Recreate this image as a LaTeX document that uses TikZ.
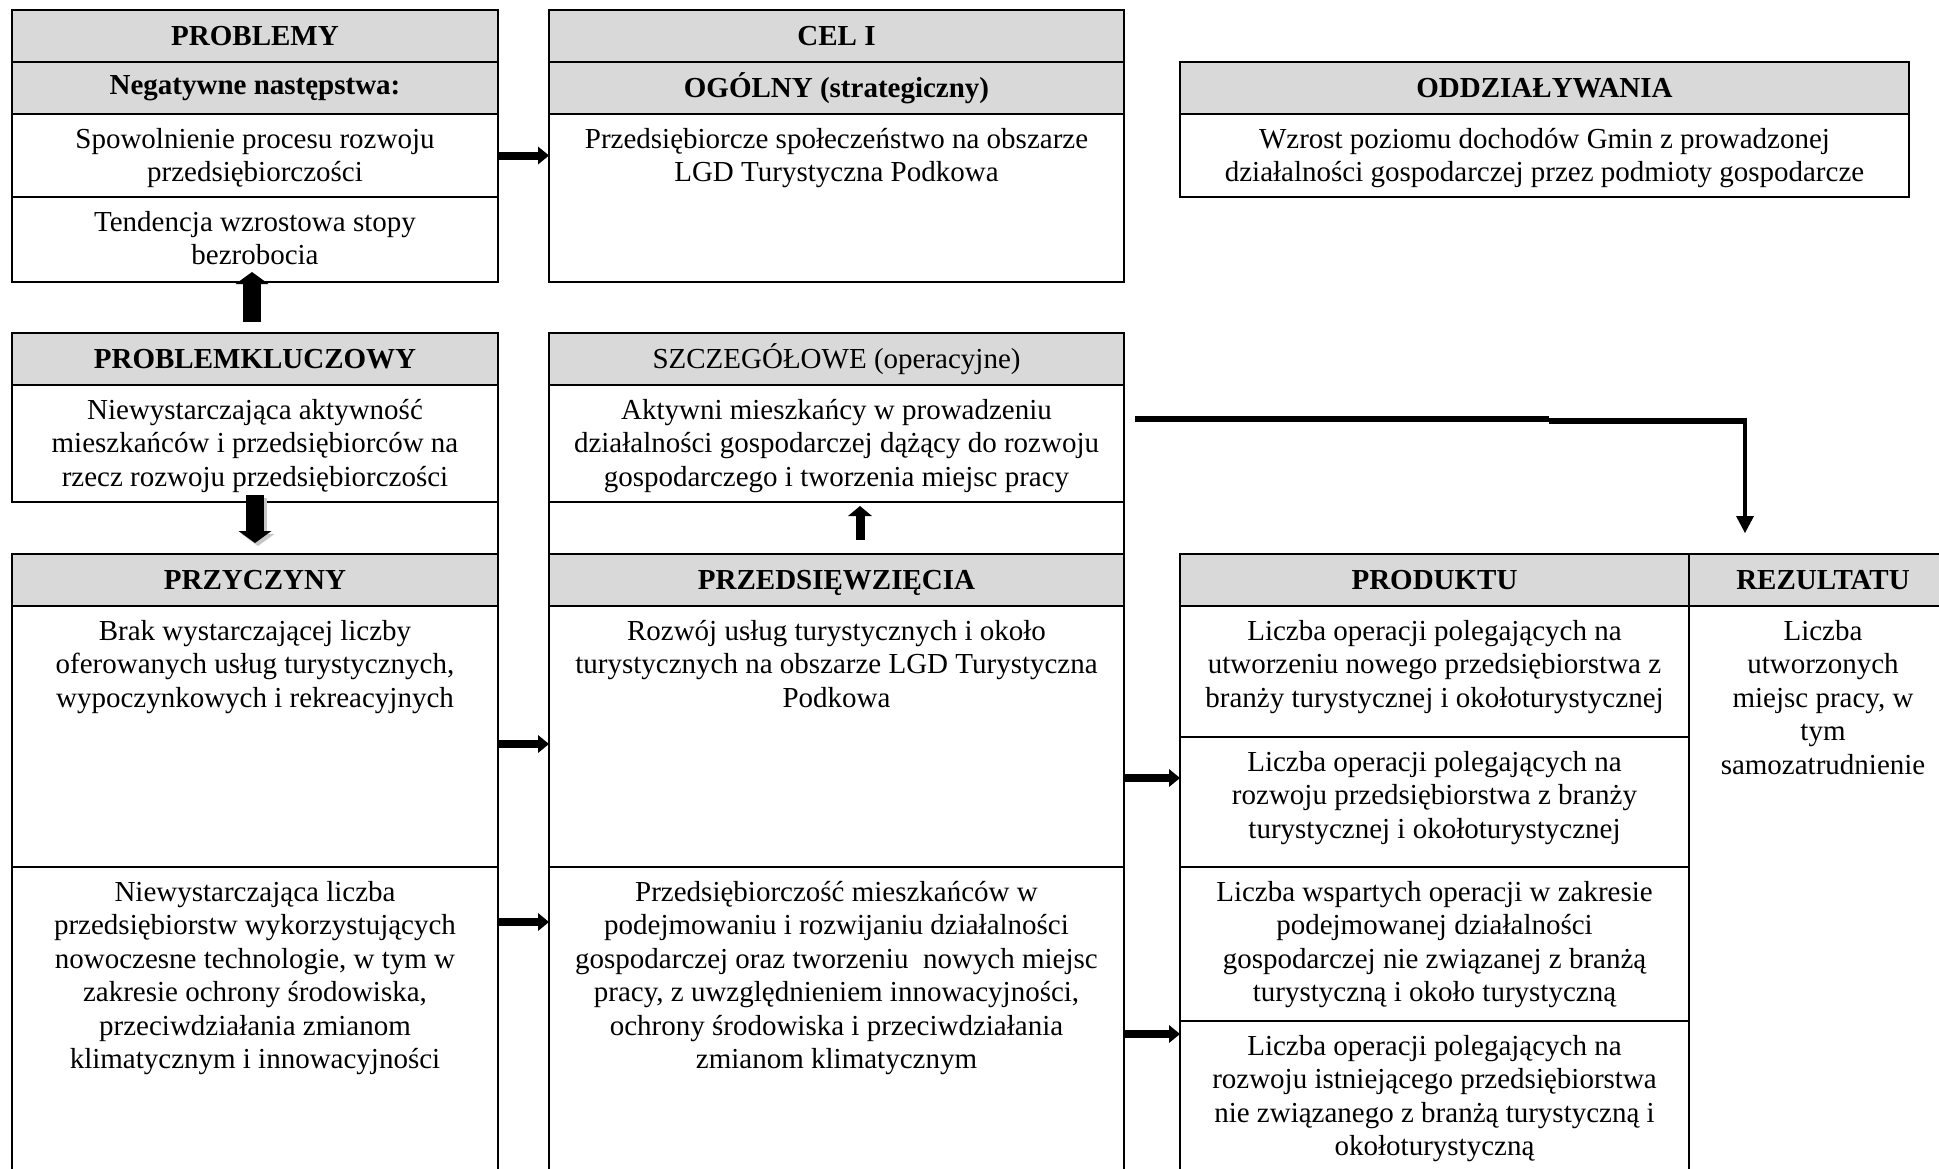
\documentclass[tikz,border=0pt]{standalone}
\usepackage{fontspec}
\setmainfont{Liberation Serif}
\usepackage{xcolor}
\usepackage{tikz}
\usetikzlibrary{arrows.meta}
\definecolor{hdgray}{HTML}{D9D9D9}

\begin{document}
\begin{tikzpicture}[x=1pt,y=-1pt,
  font=\fontsize{29}{33.5}\selectfont,
  hd/.style={anchor=north west,draw,line width=2.6pt,fill=hdgray,inner sep=0pt,outer sep=0pt,font=\fontsize{29}{33.5}\selectfont\bfseries},
  cl/.style={anchor=north west,draw,line width=2.6pt,inner sep=0pt,outer sep=0pt},
  tx/.style={anchor=north,yshift=-14pt,align=center,inner sep=0pt},
  ar/.style={line width=8pt,-{Triangle[width=18pt,length=11pt,line width=0pt]}},
  br/.style={line width=18pt,-{Triangle[width=33pt,length=12pt,line width=0pt]}},
  lk/.style={line width=5.5pt}]
\useasboundingbox (0,0) rectangle (1939,1168);
\fill[white] (0,0) rectangle (1939,1168);
\clip (0,0) rectangle (1939,1168);

% problemy
\node (prob) at (12,10) [hd,minimum width=486,minimum height=52] {PROBLEMY};
\node (neg) at (12,62) [hd,minimum width=486,minimum height=52] {Negatywne następstwa:};
\node (spow) at (12,114) [cl,minimum width=486,minimum height=83] {};
\node (tend) at (12,197) [cl,minimum width=486,minimum height=85] {};
\node (pkh) at (12,333) [hd,minimum width=486,minimum height=52] {PROBLEMKLUCZOWY};
\node (pkt) at (12,385) [cl,minimum width=486,minimum height=117] {};
\node (przh) at (12,554) [hd,minimum width=486,minimum height=52] {PRZYCZYNY};
\node (brak) at (12,606) [cl,minimum width=486,minimum height=261] {};
\node (niew) at (12,867) [cl,minimum width=486,minimum height=340] {};
\node (spowt) at (spow.north) [tx] {Spowolnienie procesu rozwoju\\przedsiębiorczości};
\node (tendt) at (tend.north) [tx] {Tendencja wzrostowa stopy\\bezrobocia};
\node (pktt) at (pkt.north) [tx] {Niewystarczająca aktywność\\mieszkańców i przedsiębiorców na\\rzecz rozwoju przedsiębiorczości};
\node (brakt) at (brak.north) [tx] {Brak wystarczającej liczby\\oferowanych usług turystycznych,\\wypoczynkowych i rekreacyjnych};
\node (niewt) at (niew.north) [tx] {Niewystarczająca liczba\\przedsiębiorstw wykorzystujących\\nowoczesne technologie, w tym w\\zakresie ochrony środowiska,\\przeciwdziałania zmianom\\klimatycznym i innowacyjności};
\draw[line width=2.6pt] (pkt.south east) -- (przh.north east);

% cel
\node (cel) at (549,10) [hd,minimum width=575,minimum height=52] {CEL I};
\node (ogol) at (549,62) [hd,minimum width=575,minimum height=52] {OGÓLNY (strategiczny)};
\node (spol) at (549,114) [cl,minimum width=575,minimum height=168] {};
\node (szh) at (549,333) [hd,minimum width=575,minimum height=52,font=\fontsize{29}{33.5}\selectfont] {SZCZEGÓŁOWE (operacyjne)};
\node (akt) at (549,385) [cl,minimum width=575,minimum height=117] {};
\node (pust) at (549,502) [cl,minimum width=575,minimum height=52] {};
\node (pdh) at (549,554) [hd,minimum width=575,minimum height=52,text depth=0pt] {PRZEDSIĘWZIĘCIA};
\node (rozw) at (549,606) [cl,minimum width=575,minimum height=261] {};
\node (mies) at (549,867) [cl,minimum width=575,minimum height=340] {};
\node (spolt) at (spol.north) [tx] {Przedsiębiorcze społeczeństwo na obszarze\\LGD Turystyczna Podkowa};
\node (aktt) at (akt.north) [tx] {Aktywni mieszkańcy w prowadzeniu\\działalności gospodarczej dążący do rozwoju\\gospodarczego i tworzenia miejsc pracy};
\node (rozwt) at (rozw.north) [tx] {Rozwój usług turystycznych i około\\turystycznych na obszarze LGD Turystyczna\\Podkowa};
\node (miest) at (mies.north) [tx] {Przedsiębiorczość mieszkańców w\\podejmowaniu i rozwijaniu działalności\\gospodarczej oraz tworzeniu\ \ nowych miejsc\\pracy, z uwzględnieniem innowacyjności,\\ochrony środowiska i przeciwdziałania\\zmianom klimatycznym};

% oddzialywania, produktu, rezultatu
\node (odh) at (1180,62) [hd,minimum width=729,minimum height=52] {ODDZIAŁYWANIA};
\node (odt) at (1180,114) [cl,minimum width=729,minimum height=83] {};
\node (prh) at (1180,554) [hd,minimum width=509,minimum height=52] {PRODUKTU};
\node (pr1) at (1180,606) [cl,minimum width=509,minimum height=131] {};
\node (pr2) at (1180,737) [cl,minimum width=509,minimum height=130] {};
\node (pr3) at (1180,867) [cl,minimum width=509,minimum height=154] {};
\node (pr4) at (1180,1021) [cl,minimum width=509,minimum height=186] {};
\node (rzh) at (1689,554) [hd,minimum width=268,minimum height=52] {REZULTATU};
\node (rz1) at (1689,606) [cl,minimum width=268,minimum height=601] {};
\node (odtt) at (odt.north) [tx] {Wzrost poziomu dochodów Gmin z prowadzonej\\działalności gospodarczej przez podmioty gospodarcze};
\node (pr1t) at (pr1.north) [tx] {Liczba operacji polegających na\\utworzeniu nowego przedsiębiorstwa z\\branży turystycznej i okołoturystycznej};
\node (pr2t) at (pr2.north) [tx] {Liczba operacji polegających na\\rozwoju przedsiębiorstwa z branży\\turystycznej i okołoturystycznej};
\node (pr3t) at (pr3.north) [tx] {Liczba wspartych operacji w zakresie\\podejmowanej działalności\\gospodarczej nie związanej z branżą\\turystyczną i około turystyczną};
\node (pr4t) at (pr4.north) [tx] {Liczba operacji polegających na\\rozwoju istniejącego przedsiębiorstwa\\nie związanego z branżą turystyczną i\\okołoturystyczną};
\node (rz1t) at (rz1.north) [tx] {Liczba\\utworzonych\\miejsc pracy, w\\tym\\samozatrudnienie};

% strzalki
\draw[ar] ([yshift=-41.5pt]spow.north east) -- ([yshift=-41.5pt]spol.north west);
\draw[ar] ([yshift=-138pt]brak.north east) -- ([yshift=-138pt]rozw.north west);
\draw[ar] ([yshift=-55pt]niew.north east) -- ([yshift=-55pt]mies.north west);
\draw[ar] ([yshift=-172pt]rozw.north east) -- ([yshift=-172pt]pr1.north west);
\draw[ar] ([yshift=-167pt]mies.north east) -- ([yshift=-167pt]pr3.north west);
\draw[br] ([xshift=-3pt,yshift=11pt]pkh.north) -- ([xshift=-3pt,yshift=10pt]tend.south);
\draw[br,color=gray!45] ([xshift=3pt,yshift=4pt]pkt.south) -- ([xshift=3pt,yshift=8pt]przh.north);
\draw[br] ([yshift=7pt]pkt.south) -- ([yshift=11pt]przh.north);
\draw[line width=9pt,-{Triangle[width=24pt,length=10pt,line width=0pt]}] ([xshift=23.5pt,yshift=14pt]pust.south) -- ([xshift=23.5pt,yshift=-4pt]pust.north);
\coordinate (k1) at ([xshift=11pt,yshift=-34pt]akt.north east);
\coordinate (k2) at ([xshift=56pt,yshift=21pt]rzh.north west);
\draw[lk] (k1) -- ++(414,0);
\draw[lk] ([yshift=-2pt]k1) ++(414,0) -- ++(198,0);
\draw[line width=4pt,-{Triangle[width=18pt,length=17pt,line width=0pt]}] (k2 |- k1) -- (k2);
\end{tikzpicture}
\end{document}
